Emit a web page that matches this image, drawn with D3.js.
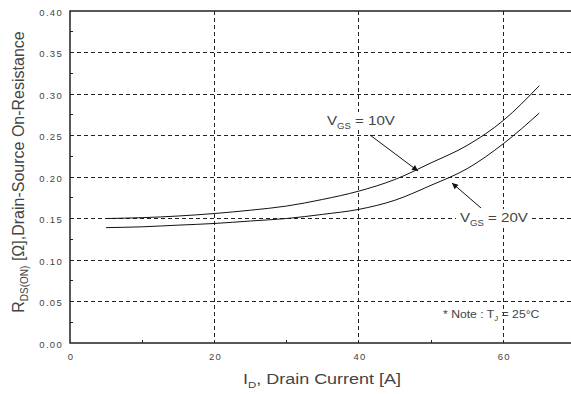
<!DOCTYPE html>
<html>
<head>
<meta charset="utf-8">
<script src="https://cdn.jsdelivr.net/npm/d3@7"></script>
<style>
  html, body { margin: 0; padding: 0; background: #fff; }
  svg { display: block; font-family: "Liberation Sans", Arial, sans-serif; }
</style>
</head>
<body>
<svg id="chart" width="571" height="394"></svg>
<script>
// Drain current [A]
const current = [5, 10, 15, 20, 25, 30, 35, 40, 45, 50, 55, 60, 65];
// On-resistance [Ω] at VGS = 10V and VGS = 20V
const rds10 = [0.150, 0.151, 0.153, 0.156, 0.160, 0.165, 0.173, 0.183, 0.197, 0.217, 0.238, 0.268, 0.310];
const rds20 = [0.139, 0.140, 0.142, 0.144, 0.147, 0.150, 0.155, 0.161, 0.172, 0.190, 0.210, 0.240, 0.277];
const xTicks = [0, 20, 40, 60];
const xMinor = [10, 30, 50];
const yTicks = [0, 0.05, 0.10, 0.15, 0.20, 0.25, 0.30, 0.35, 0.40];
const yMinor = [0.025, 0.075, 0.125, 0.175, 0.225, 0.275, 0.325, 0.375];

const svg = d3.select("#chart");
const plotL = 70, plotT = 11, plotB = 343, plotR = 575.4;

const x = d3.scaleLinear().domain([0, 70]).range([plotL, plotR]);
const y = d3.scaleLinear().domain([0, 0.4]).range([plotB, plotT]);

const textCol = "#444";

// dashed grid
const grid = svg.append("g").attr("stroke", "#222").attr("stroke-width", 1)
  .attr("stroke-dasharray", "4,3").attr("shape-rendering", "crispEdges");
yTicks.filter(v => v > 0 && v < 0.4).forEach(v => {
  grid.append("line").attr("x1", plotL).attr("x2", plotR).attr("y1", y(v)).attr("y2", y(v));
});
xTicks.filter(v => v > 0).forEach(v => {
  grid.append("line").attr("x1", x(v)).attr("x2", x(v)).attr("y1", plotT).attr("y2", plotB);
});

// axes
const yAxis = d3.axisLeft(y).tickValues(yTicks).tickFormat(d3.format(".2f")).tickSize(0).tickPadding(7);
const gy = svg.append("g").attr("transform", `translate(${plotL},0)`).call(yAxis);
const xAxis = d3.axisBottom(x).tickValues(xTicks).tickFormat(d3.format("d")).tickSize(0).tickPadding(10);
const gx = svg.append("g").attr("transform", `translate(0,${plotB})`).call(xAxis);
[gx, gy].forEach(g => {
  g.select(".domain").remove();
  g.selectAll("text").attr("fill", textCol).attr("font-size", 9.5)
    .attr("letter-spacing", 1.3)
    .attr("font-family", "'Liberation Sans', Arial, sans-serif");
});
gy.selectAll("text").attr("dy", "0.42em");
gx.selectAll("text").attr("dx", 0.65);

// minor inward ticks
const ticks = svg.append("g").attr("stroke", "#222").attr("stroke-width", 1).attr("shape-rendering", "crispEdges");
yMinor.forEach(v => ticks.append("line").attr("x1", plotL).attr("x2", plotL + 3).attr("y1", y(v)).attr("y2", y(v)));
xMinor.forEach(v => ticks.append("line").attr("x1", x(v)).attr("x2", x(v)).attr("y1", plotB).attr("y2", plotB - 3));

// frame
svg.append("path")
  .attr("d", `M${plotR},${plotT}H${plotL}V${plotB}H${plotR}`)
  .attr("fill", "none").attr("stroke", "#222").attr("stroke-width", 1.5);

// curves
const line = d3.line().x(d => x(d[0])).y(d => y(d[1])).curve(d3.curveMonotoneX);
[rds10, rds20].forEach(r => {
  svg.append("path").datum(current.map((c, i) => [c, r[i]]))
    .attr("d", line).attr("fill", "none").attr("stroke", "#111").attr("stroke-width", 1);
});

// annotation arrows
svg.append("defs").append("marker").attr("id", "arr")
  .attr("viewBox", "0 0 10 10").attr("refX", 10).attr("refY", 5)
  .attr("markerWidth", 8).attr("markerHeight", 6).attr("orient", "auto")
  .attr("markerUnits", "userSpaceOnUse")
  .append("path").attr("d", "M0,0L10,5L0,10z").attr("fill", "#111");

svg.append("line").attr("x1", 370).attr("y1", 135).attr("x2", 418).attr("y2", 171)
  .attr("stroke", "#111").attr("stroke-width", 1).attr("marker-end", "url(#arr)");
svg.append("line").attr("x1", 481).attr("y1", 208).attr("x2", 452).attr("y2", 183)
  .attr("stroke", "#111").attr("stroke-width", 1).attr("marker-end", "url(#arr)");

// text stretched horizontally by sx
function wideText(px, py, sx, size, anchor) {
  return svg.append("text")
    .attr("transform", `translate(${px},${py}) scale(${sx},1)`)
    .attr("text-anchor", anchor || "start")
    .attr("fill", textCol).attr("font-size", size);
}

function vgsLabel(px, py, value) {
  const t = wideText(px, py, 1.12, 13.5);
  t.append("tspan").text("V");
  t.append("tspan").attr("dy", 4).attr("font-size", 8.5).text("GS");
  t.append("tspan").attr("dy", -4).text(" = " + value);
}
// white gaps behind the labels where they sit on grid lines
svg.append("rect").attr("x", 324).attr("y", 112).attr("width", 77).attr("height", 18).attr("fill", "#fff");
svg.append("rect").attr("x", 456).attr("y", 209).attr("width", 74).attr("height", 18).attr("fill", "#fff");
vgsLabel(327, 125, "10V");
vgsLabel(460, 222, "20V");

// note
const note = wideText(443, 318, 1.22, 10);
note.append("tspan").text("* Note : T");
note.append("tspan").attr("dy", 3).attr("font-size", 6.5).text("J");
note.append("tspan").attr("dy", -3).text(" = 25°C");

// axis titles
const xt = wideText(322, 384, 1.2, 15, "middle");
xt.append("tspan").text("I");
xt.append("tspan").attr("dy", 4).attr("font-size", 9.5).text("D");
xt.append("tspan").attr("dy", -4).text(", Drain Current [A]");

const yt = svg.append("text").attr("transform", "translate(24,172) rotate(-90)")
  .attr("text-anchor", "middle").attr("fill", textCol).attr("font-size", 16);
yt.append("tspan").text("R");
yt.append("tspan").attr("dy", 4).attr("font-size", 10).text("DS(ON)");
yt.append("tspan").attr("dy", -4).text(" [Ω],Drain-Source On-Resistance");
</script>
</body>
</html>
